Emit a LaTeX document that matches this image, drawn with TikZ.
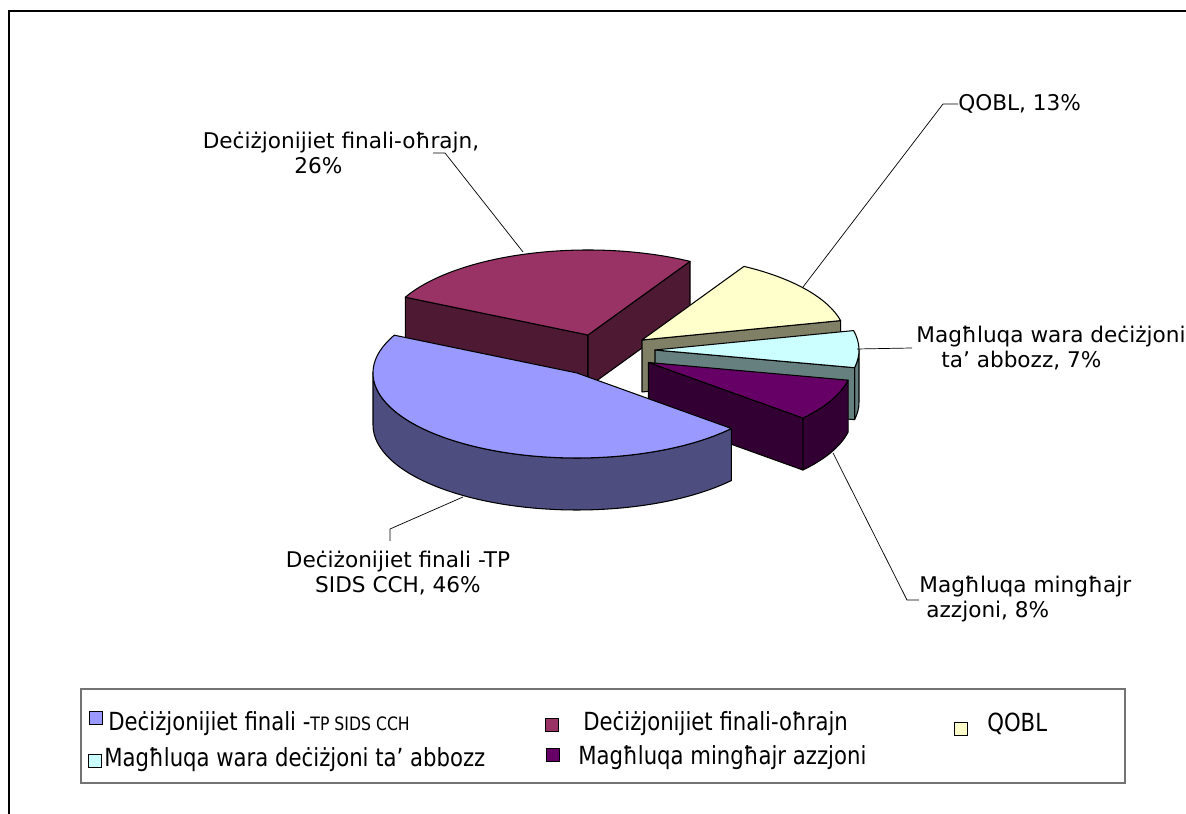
\documentclass[tikz,border=0pt]{standalone}
\usepackage{fontspec}
\setmainfont{DejaVu Sans}
\newfontfamily\legfont{DejaVu Sans}[FakeStretch=0.85]
\usepackage{tikz}
\usepackage{xcolor}
\usetikzlibrary{positioning, calc}

\definecolor{bluetop}{HTML}{9999FF}
\definecolor{bluesd}{HTML}{4D4D80}
\definecolor{marotop}{HTML}{993366}
\definecolor{marosd}{HTML}{4D1933}
\definecolor{yeltop}{HTML}{FFFFCC}
\definecolor{yelsd}{HTML}{808066}
\definecolor{cyantop}{HTML}{CCFFFF}
\definecolor{cyansd}{HTML}{668080}
\definecolor{purptop}{HTML}{660066}
\definecolor{purpsd}{HTML}{330033}

\begin{document}
\begin{tikzpicture}[
    x=0.02cm, y=0.02cm,
    face/.style={draw=black, line width=0.6pt, line join=round},
    leader/.style={draw=black, line width=0.4pt},
    lbl/.style={font=\fontsize{12.3}{14.5}\selectfont, inner sep=0pt},
    legkey/.style={draw=black, line width=0.6pt, minimum width=0.25cm, minimum height=0.26cm, inner sep=0pt},
    legtxt/.style={font=\legfont\fontsize{14.2}{16}\selectfont, inner sep=0pt, anchor=west},
    ]
    \useasboundingbox (0,0) rectangle (1186,814);
    % outer frame (top and left only)
    \draw[line width=1.2pt] (9,0) -- (9,803) -- (1186,803);

    % Dec. finali-ohrajn, 26%
    \begin{scope}[shift={(588,479)}, x radius=204, y radius=85]
        \path[face, fill=marosd] (0,0) -- (153.6:204 and 85) -- ++(0,-52) -- (0,-52) -- cycle;
        \path[face, fill=marosd] (0,0) -- (60:204 and 85) -- ++(0,-52) -- (0,-52) -- cycle;
        \path[face, fill=marotop] (0,0) -- (60:204 and 85) arc[start angle=60, end angle=153.6] -- cycle;
    \end{scope}

    % QOBL, 13%
    \begin{scope}[shift={(642,474)}, x radius=204, y radius=85]
        \path[face, fill=yelsd] (0,0) -- (13.2:204 and 85) -- ++(0,-52) -- (0,-52) -- cycle;
        \path[face, fill=yeltop] (0,0) -- (13.2:204 and 85) arc[start angle=13.2, end angle=60] -- cycle;
    \end{scope}

    % wara dec. ta' abbozz, 7%
    \begin{scope}[shift={(655,464)}, x radius=204, y radius=85]
        \path[face, fill=cyansd] (348:204 and 85) arc[start angle=348, end angle=360] -- ++(0,-52) arc[start angle=360, end angle=348] -- cycle;
        \path[face, fill=cyansd] (0,0) -- (348:204 and 85) -- ++(0,-52) -- (0,-52) -- cycle;
        \path[face, fill=cyantop] (0,0) -- (348:204 and 85) arc[start angle=348, end angle=373.2] -- cycle;
    \end{scope}

    % minghajr azzjoni, 8%
    \begin{scope}[shift={(648.5,451.5)}, x radius=204, y radius=85]
        \path[face, fill=purpsd] (319.2:204 and 85) arc[start angle=319.2, end angle=348] -- ++(0,-52) arc[start angle=348, end angle=319.2] -- cycle;
        \path[face, fill=purpsd] (0,0) -- (319.2:204 and 85) -- ++(0,-52) -- (0,-52) -- cycle;
        \path[face, fill=purptop] (0,0) -- (319.2:204 and 85) arc[start angle=319.2, end angle=348] -- cycle;
    \end{scope}

    % TP SIDS CCH, 46%
    \begin{scope}[shift={(577,441)}, x radius=204, y radius=85]
        \path[face, fill=bluesd] (180:204 and 85) arc[start angle=180, end angle=319.2] -- ++(0,-52) arc[start angle=319.2, end angle=180] -- cycle;
        \path[face, fill=bluetop] (0,0) -- (153.6:204 and 85) arc[start angle=153.6, end angle=319.2] -- cycle;
    \end{scope}

    % data labels
    \node[lbl, align=center] (lbl26) at (341,661) {Deċiżjonijiet finali-oħrajn,\\26\%\rule{0.9cm}{0pt}};
    \node[lbl, anchor=west] (lbl13) at (958,710) {QOBL, 13\%};
    \node[lbl, align=left, anchor=west] (lbl7) at (916,466) {Magħluqa wara deċiżjoni\\\hspace*{0.5cm}ta’ abbozz, 7\%};
    \node[lbl, align=center] (lbl46) at (398,241) {Deċiżonijiet finali -TP\\SIDS CCH, 46\%};
    \node[lbl, align=left, anchor=west] (lbl8) at (919,215) {Magħluqa mingħajr\\\hspace*{0.14cm}azzjoni, 8\%};

    % leader ends on the slices
    \coordinate (tip26) at (523,562);
    \coordinate (tip13) at (803,527);
    \coordinate (tip7) at (857,465);
    \coordinate (tip46) at (463,317);
    \coordinate (tip8) at (833,361);

    \draw[leader] (433,661) -- (445,661) -- (tip26);
    \draw[leader] (lbl13.west) -- ++(-15,0) -- (tip13);
    \draw[leader] ([xshift=-0.08cm]lbl7.west) -- (tip7);
    \draw[leader] (390,273) -- ++(0,12) -- (tip46);
    \draw[leader] ([yshift=-0.02cm]lbl8.west) -- ++(-12,0) -- (tip8);

    % legend
    \draw[draw=black!55, line width=0.6pt] (81,31) rectangle (1125,125);
    \node[legkey, fill=bluetop] (key1) at (96,96) {};
    \node[legtxt] (leg1) at (108,90) {Deċiżjonijiet finali -{\fontsize{10.5}{12}\selectfont TP SIDS CCH}};
    \node[legkey, fill=marotop] (key2) at (552,89) {};
    \node[legtxt] (leg2) at (583,90) {Deċiżjonijiet finali-oħrajn};
    \node[legkey, fill=yeltop] (key3) at (961,85) {};
    \node[legtxt] (leg3) at (987,90) {QOBL};
    \node[legkey, fill=cyantop] (key4) at (95,53) {};
    \node[legtxt] (leg4) at (104,54) {Magħluqa wara deċiżjoni ta’ abbozz};
    \node[legkey, fill=purptop] (key5) at (553,59) {};
    \node[legtxt] (leg5) at (578,56) {Magħluqa mingħajr azzjoni};
\end{tikzpicture}
\end{document}
